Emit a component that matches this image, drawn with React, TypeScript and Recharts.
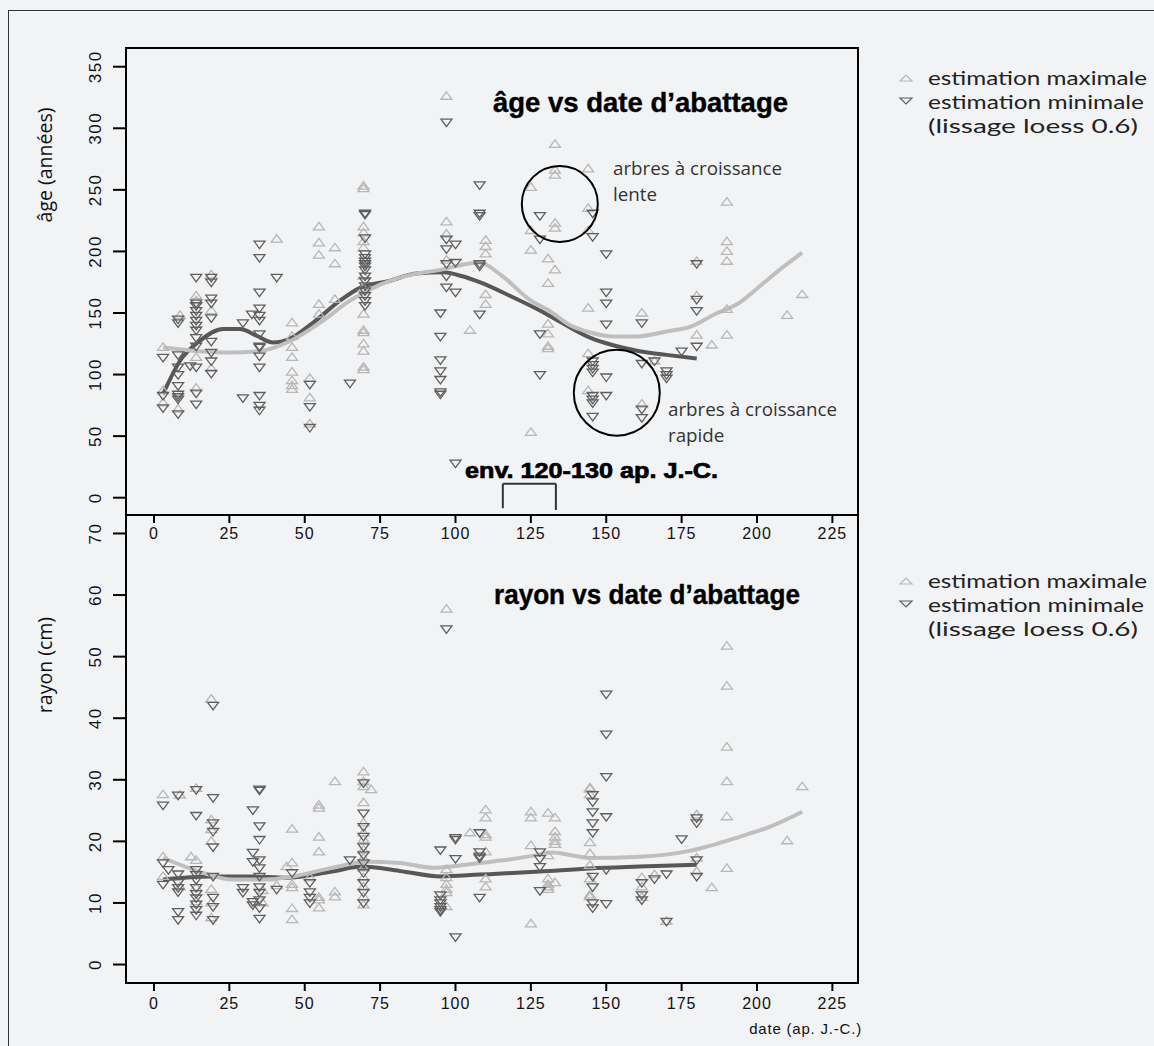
import React from "react"
import { ComposedChart, Scatter, Line, XAxis, YAxis, ReferenceDot, ReferenceLine } from "recharts"

// ticks
const dateTicks = [0, 25, 50, 75, 100, 125, 150, 175, 200, 225]
const ageTicks = [0, 50, 100, 150, 200, 250, 300, 350]
const rayonTicks = [0, 10, 20, 30, 40, 50, 60, 70]

// âge, estimation maximale  [date, âge]
const ageMax: [number, number][] = [
  [3, 122], [3, 87], [3, 77], [8.6, 148], [8, 72],
  [14, 164], [14, 160], [14, 114], [14, 89],
  [19, 181], [19, 152], [19, 105], [40.7, 210],
  [45.8, 142], [45.8, 131], [45.8, 122], [45.8, 114], [45.8, 102], [45.8, 95], [45.8, 91], [45.8, 88],
  [51.7, 97], [51.7, 81], [51.7, 60],
  [54.7, 220], [54.7, 207], [54.7, 197], [54.7, 157], [54.7, 149],
  [60, 203], [60, 190], [60, 161],
  [69.5, 253], [69.5, 251], [69.5, 220], [69.5, 215], [69.5, 208], [69.5, 203], [69.5, 180], [69.5, 170],
  [69.5, 149], [69.5, 136], [69.5, 134], [69.5, 125], [69.5, 119], [69.5, 106], [69.5, 104],
  [97, 326], [97, 224], [97, 214], [97, 193], [104.8, 136],
  [110, 209], [110, 204], [110, 198], [110, 165], [110, 157],
  [125, 252], [125, 217], [125, 201], [125, 53],
  [130.7, 194], [130.7, 174], [130.7, 141], [130.7, 133], [130.7, 123], [130.7, 121],
  [133, 287], [133, 266], [133, 262], [133, 223], [133, 219], [133, 185],
  [144, 267], [144, 235], [144, 217], [144, 154], [144, 117], [144, 87],
  [161.8, 150], [161.8, 76], [166, 111],
  [180, 192], [180, 164], [180, 132], [185, 124],
  [190, 240], [190, 208], [190, 200], [190, 192], [190, 153], [190, 132],
  [210, 148], [215, 165],
]

// âge, estimation minimale
const ageMin: [number, number][] = [
  [3, 114], [3, 83], [3, 73],
  [8, 145], [8, 142], [8, 116], [8, 106], [8, 100], [8, 91], [8, 84], [8, 82], [8, 80], [8, 68], [12, 107],
  [14, 179], [14, 158], [14, 156], [14, 152], [14, 148], [14, 144], [14, 140], [14, 136], [14, 130], [14, 123],
  [14, 106], [14, 85], [14, 76],
  [19, 179], [19, 175], [19, 162], [19, 158], [19, 146], [19, 127], [19, 118], [19, 111], [19, 101],
  [29.5, 142], [29.5, 81], [32.5, 149],
  [35, 206], [35, 195], [35, 167], [35, 154], [35, 148], [35, 144], [35, 133], [35, 123], [35, 122], [35, 115],
  [35, 106], [35, 83], [35, 75], [35, 71],
  [40.7, 179], [51.7, 92], [51.7, 74], [51.7, 57], [65, 93],
  [70, 231], [70, 230], [70, 211], [70, 198], [70, 195], [70, 192], [70, 190], [70, 188], [70, 185], [70, 180],
  [70, 176], [70, 172], [70, 168], [70, 164], [70, 160], [70, 156],
  [95, 150], [95, 131], [95, 112], [95, 103], [95, 96], [95, 86], [95, 84],
  [97, 305], [97, 210], [97, 202], [97, 190], [97, 180], [97, 171],
  [100, 206], [100, 191], [100, 167], [100, 28],
  [108, 254], [108, 231], [108, 229], [108, 190], [108, 188], [108, 149],
  [128, 229], [128, 210], [128, 133], [128, 100],
  [145.5, 231], [145.5, 212], [145.5, 111], [145.5, 108], [145.5, 105], [145.5, 102], [145.5, 83], [145.5, 80],
  [145.5, 77], [145.5, 66],
  [150, 198], [150, 167], [150, 158], [150, 141], [150, 98], [150, 83],
  [161.8, 142], [161.8, 109], [161.8, 72], [161.8, 65], [166, 111],
  [170, 103], [170, 100], [170, 97], [175, 119],
  [180, 190], [180, 161], [180, 152], [180, 123],
]

// rayon, estimation maximale  [date, rayon]
const rayonMax: [number, number][] = [
  [3, 27.6], [3, 17.5], [3, 14.3], [8.6, 27.5], [8.6, 12.6], [12.3, 17.5],
  [14, 28.6], [14, 16.9], [14, 12.5], [14, 10.2],
  [19, 43.1], [19, 23.5], [19, 21.9], [19, 20.0], [19, 12.2], [19, 10.0], [19, 7.6],
  [36, 10.0], [36, 12.0], [40.7, 12.8], [44, 15.9],
  [45.8, 22.0], [45.8, 16.5], [45.8, 13.0], [45.8, 12.5], [45.8, 9.1], [45.8, 7.3],
  [51.7, 14.1],
  [54.7, 25.9], [54.7, 25.4], [54.7, 20.7], [54.7, 18.3], [54.7, 10.9], [54.7, 10.5], [54.7, 9.2],
  [60, 29.7], [60, 11.8], [60, 11.0],
  [69.5, 31.3], [69.5, 29.7], [69.5, 28.9], [69.5, 26.3], [69.5, 23.0], [69.5, 21.4], [69.5, 20.3], [69.5, 18.6],
  [69.5, 17.3], [69.5, 15.7], [69.5, 14.1], [69.5, 12.6], [69.5, 11.0], [69.5, 9.7], [72, 28.4],
  [97, 57.7], [97, 15.4], [97, 14.1], [97, 13.0], [97, 12.2], [97, 11.7], [97, 9.4], [104.8, 21.4],
  [110, 25.1], [110, 23.8], [110, 21.1], [110, 20.7], [110, 18.3], [110, 13.9], [110, 12.6],
  [125, 24.8], [125, 23.8], [125, 19.3], [125, 6.6],
  [130.7, 24.6], [130.7, 17.7], [130.7, 13.9], [130.7, 13.0], [130.7, 12.6], [130.7, 12.2],
  [133, 23.8], [133, 21.6], [133, 20.7], [133, 20.0], [133, 19.5], [133, 13.3],
  [144.6, 28.7], [144.6, 28.5], [144.6, 27.6], [144.6, 19.8], [144.6, 18.0], [144.6, 16.1], [144.6, 13.9],
  [144.6, 11.3], [144.6, 11.0],
  [161.8, 14.1], [161.8, 12.6], [161.8, 10.9], [166, 14.6], [170, 7.0],
  [180, 24.3], [180, 17.3], [180, 15.1], [185, 12.5],
  [190, 51.7], [190, 45.2], [190, 35.3], [190, 29.7], [190, 24.0], [190, 15.6],
  [210, 20.1], [215, 28.9],
]

// rayon, estimation minimale
const rayonMin: [number, number][] = [
  [3, 25.9], [3, 16.5], [3, 13.0], [4.8, 15.4],
  [8, 27.5], [8, 14.7], [8, 13.3], [8, 12.5], [8, 11.8], [8, 8.6], [8, 7.3],
  [14, 28.4], [14, 24.2], [14, 15.4], [14, 14.6], [14, 13.8], [14, 12.5], [14, 11.5], [14, 10.8], [14, 9.8],
  [14, 8.9], [14, 8.0],
  [19.6, 42.1], [19.6, 27.1], [19.6, 23.0], [19.6, 21.6], [19.6, 19.1], [19.6, 14.3], [19.6, 10.9], [19.6, 9.4],
  [19.6, 7.3],
  [29.5, 12.5], [29.5, 11.7], [32.8, 25.1], [32.8, 18.2], [32.8, 16.7], [32.8, 10.2], [32.8, 9.7],
  [35, 28.5], [35, 28.3], [35, 22.5], [35, 20.3], [35, 17.0], [35, 15.7], [35, 14.3], [35, 12.6], [35, 11.7],
  [35, 10.5], [35, 9.2], [35, 7.5],
  [40.7, 12.2], [45.8, 14.9], [51.7, 13.3], [51.7, 11.8], [51.7, 10.9], [51.7, 10.0], [65, 17.0],
  [69.5, 29.5], [69.5, 24.6], [69.5, 22.4], [69.5, 20.8], [69.5, 19.1], [69.5, 17.8], [69.5, 16.5], [69.5, 14.9],
  [69.5, 13.3], [69.5, 11.7], [69.5, 10.0],
  [95, 18.6], [95, 11.3], [95, 10.5], [95, 10.0], [95, 9.4], [95, 8.9], [95, 8.6],
  [97, 54.5],
  [100, 20.6], [100, 20.3], [100, 17.2], [100, 4.5],
  [108, 21.4], [108, 18.3], [108, 17.6], [108, 17.3], [108, 10.9],
  [128, 18.3], [128, 17.2], [128, 15.9], [128, 12.0],
  [145.5, 27.6], [145.5, 26.4], [145.5, 24.8], [145.5, 23.0], [145.5, 21.4], [145.5, 14.3], [145.5, 12.6],
  [145.5, 10.0], [145.5, 9.2],
  [150, 43.9], [150, 37.4], [150, 30.5], [150, 24.0], [150, 15.4], [150, 9.9],
  [161.8, 13.3], [161.8, 11.3], [161.8, 10.5], [166, 13.9], [170, 14.7], [170, 7.0], [175, 20.4],
  [180, 23.8], [180, 23.0], [180, 17.0], [180, 14.3],
]

// lissage loess 0.6
const ageMaxLoess: [number, number][] = [
  [3, 122], [15, 119], [25, 118], [35, 119], [45, 127], [55, 142], [65, 160], [75, 173], [85, 181], [95, 185],
  [102, 189], [108, 191], [115, 181], [125, 160], [131, 152], [138, 140], [145, 134], [152, 131], [160, 131],
  [170, 135], [178, 139], [186, 149], [194, 158], [202, 174], [208, 186], [215, 199],
]
const ageMinLoess: [number, number][] = [
  [3, 84], [8.6, 111], [15, 127], [23, 137], [28.5, 137], [34, 131.6], [39.5, 126], [45, 129], [52.7, 142],
  [61.7, 160], [68, 170], [78, 176], [87, 182], [96, 183], [102, 180], [108, 175], [118, 164], [128, 152],
  [136, 141], [144.6, 130], [152, 124], [161, 119], [170, 116], [180, 113],
]
const rayonMaxLoess: [number, number][] = [
  [3, 17.3], [15, 15.1], [26, 13.8], [37, 13.8], [46, 14.3], [59, 15.7], [70.5, 16.7], [81.5, 16.5], [92.5, 15.7],
  [100, 16], [108, 16.5], [117, 17.0], [125, 17.6], [132, 18.2], [138, 17.8], [144.6, 17.3], [161, 17.5],
  [178, 18.5], [194, 20.7], [205, 22.5], [215, 24.8],
]
const rayonMinLoess: [number, number][] = [
  [3, 13.8], [18.5, 14.3], [32, 14.3], [44, 14.1], [59, 15.1], [69, 15.9], [81.5, 15.2], [95, 14.3], [108, 14.6],
  [128, 15.1], [144.6, 15.6], [161, 15.9], [180, 16.2],
]

const pts = (rows: [number, number][]) => rows.map(([x, y]) => ({ x, y }))

const LIGHT = "#b7b7b7"
const DARK = "#5f5f5f"
const BG = "#f2f3f5"
const narrow = "'Liberation Sans Narrow', 'Liberation Sans', Arial, sans-serif"
const humanist = "'Open Sans', 'Noto Sans', sans-serif"

const UpTri = (props: any) => {
  const { cx, cy } = props
  if (cx == null || cy == null) return null
  return <path d={`M${cx - 5.5},${cy + 3}L${cx + 5.5},${cy + 3}L${cx},${cy - 4.5}Z`} fill="none" stroke={LIGHT} strokeWidth={1.3} />
}

const DownTri = (props: any) => {
  const { cx, cy } = props
  if (cx == null || cy == null) return null
  return <path d={`M${cx - 5.5},${cy - 3}L${cx + 5.5},${cy - 3}L${cx},${cy + 4.5}Z`} fill="none" stroke={DARK} strokeWidth={1.3} />
}

const makeXTick = (dy: number) => (props: any) => {
  const { x, y, payload } = props
  return (
    <text x={x} y={y} dy={dy} textAnchor="middle" fontSize={16} fontFamily={narrow} letterSpacing={1} fill="#111">
      {payload.value}
    </text>
  )
}

const YTick = (props: any) => {
  const { x, y, payload } = props
  const bx = x - 10
  return (
    <text x={bx} y={y} textAnchor="middle" fontSize={17} fontFamily={narrow} letterSpacing={1.5} fill="#111"
      transform={`rotate(-90 ${bx} ${y})`}>
      {payload.value}
    </text>
  )
}

const xDomain = [-9.28, 233.5]

const Box = ({ top, height }: { top: number; height: number }) => (
  <div style={{ position: "absolute", left: 125, top: top - 1, width: 734, height: height + 2, border: "2px solid #000", boxSizing: "border-box" }} />
)

const LegendBlock = ({ y }: { y: number }) => (
  <g fontFamily="Lato, 'Open Sans', sans-serif" fontSize={19.5} fill="#222">
    <path d={`M${900},${y + 3}L${912},${y + 3}L${906},${y - 3}Z`} fill="none" stroke={LIGHT} strokeWidth={1.2} />
    <text x={928} y={y + 7} textLength={219} lengthAdjust="spacingAndGlyphs">estimation maximale</text>
    <path d={`M${900},${y + 20}L${912},${y + 20}L${906},${y + 26}Z`} fill="none" stroke={DARK} strokeWidth={1.2} />
    <text x={928} y={y + 31} textLength={216} lengthAdjust="spacingAndGlyphs">estimation minimale</text>
    <text x={928} y={y + 55} textLength={210} lengthAdjust="spacingAndGlyphs">(lissage loess 0.6)</text>
  </g>
)

export default function App() {
  return (
    <div style={{ position: "absolute", left: 0, top: 0, width: 1154, height: 1046, background: BG, overflow: "hidden" }}>
      <div style={{ position: "absolute", left: 8, top: 10, width: 1160, height: 1060, borderTop: "1.5px solid #333", borderLeft: "1.5px solid #333" }} />

      <div style={{ position: "absolute", left: 0, top: 0 }}>
        <ComposedChart width={1154} height={560} margin={{ top: 48, right: 296, left: 86, bottom: 15 }}>
          <XAxis type="number" dataKey="x" domain={xDomain} ticks={dateTicks} allowDataOverflow height={30}
            axisLine={false} tickSize={8} tickLine={{ stroke: "#000", strokeWidth: 2 }} tick={makeXTick(14)} interval={0} />
          <YAxis type="number" domain={[-14.05, 365.2]} ticks={ageTicks} allowDataOverflow width={40}
            axisLine={false} tickSize={13} tickLine={{ stroke: "#000", strokeWidth: 2 }} tick={YTick} interval={0} />
          <Scatter data={pts(ageMax)} dataKey="y" shape={UpTri} isAnimationActive={false} />
          <Scatter data={pts(ageMin)} dataKey="y" shape={DownTri} isAnimationActive={false} />
          <Line data={pts(ageMinLoess)} dataKey="y" type="monotone" stroke="#575757" strokeWidth={4} dot={false} isAnimationActive={false} />
          <Line data={pts(ageMaxLoess)} dataKey="y" type="monotone" stroke="#bfbfbf" strokeWidth={4} dot={false} isAnimationActive={false} />
          <ReferenceDot x={134.6} y={238.5} r={38} fill="none" stroke="#000" strokeWidth={2} />
          <ReferenceDot x={153.5} y={85.3} r={43} fill="none" stroke="#000" strokeWidth={2} />
          <ReferenceLine segment={[{ x: 115.7, y: -8.5 }, { x: 115.7, y: 11.4 }]} stroke="#333" strokeWidth={2} />
          <ReferenceLine segment={[{ x: 115.7, y: 11.4 }, { x: 133.3, y: 11.4 }]} stroke="#333" strokeWidth={2} />
          <ReferenceLine segment={[{ x: 133.3, y: 11.4 }, { x: 133.3, y: -10 }]} stroke="#333" strokeWidth={2} />
        </ComposedChart>
      </div>

      <div style={{ position: "absolute", left: 0, top: 470 }}>
        <ComposedChart width={1154} height={576} margin={{ top: 45, right: 296, left: 86, bottom: 33 }}>
          <XAxis type="number" dataKey="x" domain={xDomain} ticks={dateTicks} allowDataOverflow height={30}
            axisLine={false} tickSize={8} tickLine={{ stroke: "#000", strokeWidth: 2 }} tick={makeXTick(16)} interval={0} />
          <YAxis type="number" domain={[-3.0, 73.0]} ticks={rayonTicks} allowDataOverflow width={40}
            axisLine={false} tickSize={13} tickLine={{ stroke: "#000", strokeWidth: 2 }} tick={YTick} interval={0} />
          <Scatter data={pts(rayonMax)} dataKey="y" shape={UpTri} isAnimationActive={false} />
          <Scatter data={pts(rayonMin)} dataKey="y" shape={DownTri} isAnimationActive={false} />
          <Line data={pts(rayonMinLoess)} dataKey="y" type="monotone" stroke="#575757" strokeWidth={4} dot={false} isAnimationActive={false} />
          <Line data={pts(rayonMaxLoess)} dataKey="y" type="monotone" stroke="#bfbfbf" strokeWidth={4} dot={false} isAnimationActive={false} />
        </ComposedChart>
      </div>

      <Box top={48} height={467} />
      <Box top={515} height={468} />

      <svg width={1154} height={1046} style={{ position: "absolute", left: 0, top: 0, pointerEvents: "none" }}>
        <text x={493} y={112} textLength={295} lengthAdjust="spacingAndGlyphs" fontFamily={narrow} fontWeight="bold"
          fontSize={28} fill="#000" stroke="#000" strokeWidth={0.4}>
          âge vs date d’abattage
        </text>
        <text x={494} y={604} textLength={306} lengthAdjust="spacingAndGlyphs" fontFamily={narrow} fontWeight="bold"
          fontSize={28} fill="#000" stroke="#000" strokeWidth={0.4}>
          rayon vs date d’abattage
        </text>
        <g fontFamily={humanist} fontSize={18.8} fill="#333">
          <text x={613} y={175}>arbres à croissance</text>
          <text x={613} y={201}>lente</text>
          <text x={668} y={416}>arbres à croissance</text>
          <text x={668} y={442}>rapide</text>
        </g>
        <text x={465} y={478} textLength={253} lengthAdjust="spacingAndGlyphs" fontFamily="'Liberation Sans', Arial, sans-serif"
          fontWeight="bold" fontSize={22} fill="#000" stroke="#000" strokeWidth={0.7}>
          env. 120-130 ap. J.-C.
        </text>
        <text x={52} y={165} textAnchor="middle" fontFamily={humanist} fontSize={19.5} fill="#111" transform="rotate(-90 52 165)">
          âge (années)
        </text>
        <text x={52} y={665} textAnchor="middle" fontFamily={humanist} fontSize={19.5} fill="#111" transform="rotate(-90 52 665)">
          rayon (cm)
        </text>
        <text x={862} y={1034} textAnchor="end" fontFamily={narrow} fontSize={15} letterSpacing={0.8} fill="#111">
          date (ap. J.-C.)
        </text>
        <LegendBlock y={78} />
        <LegendBlock y={581} />
      </svg>
    </div>
  )
}
